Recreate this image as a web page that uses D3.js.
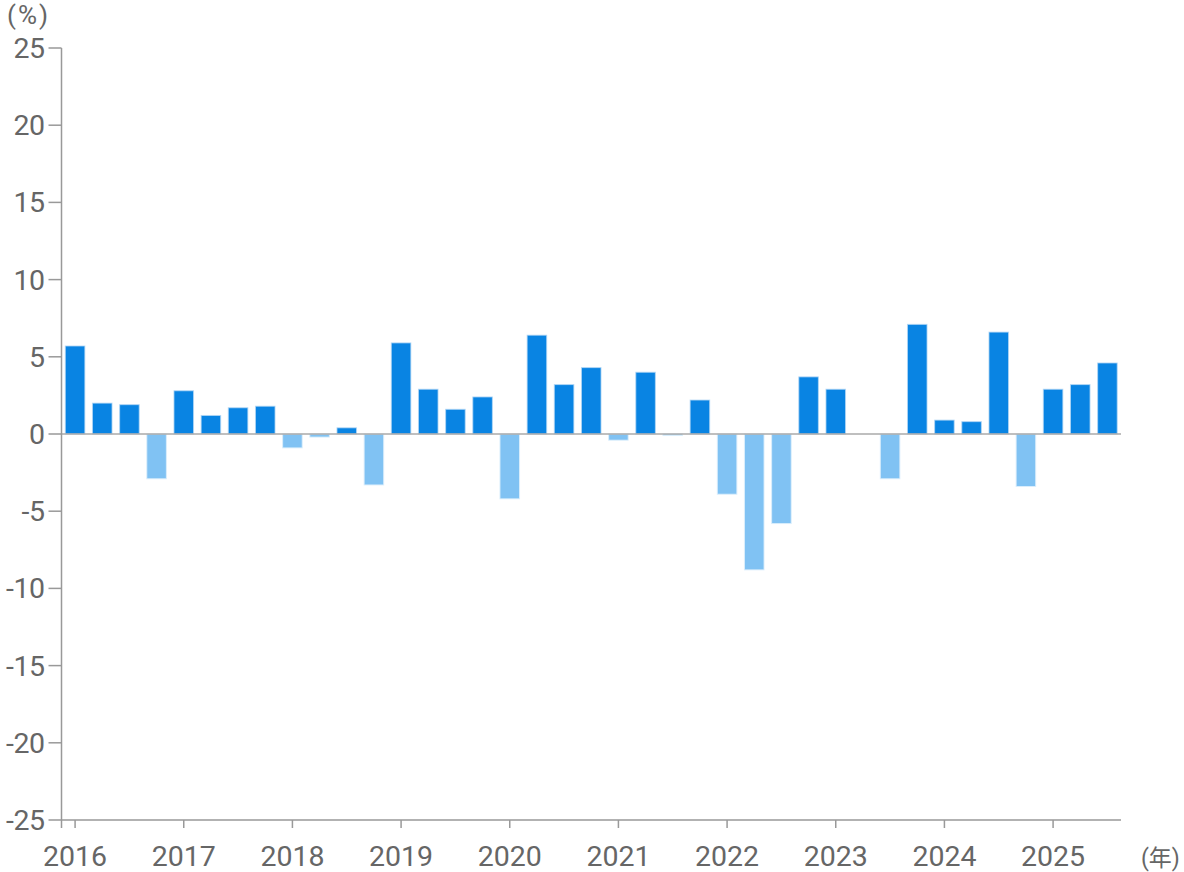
<!DOCTYPE html>
<html><head><meta charset="utf-8">
<script src="https://cdn.jsdelivr.net/npm/d3@7"></script>
<style>body{margin:0;background:#fff}svg text{font-family:Roboto,"Noto Sans CJK JP",sans-serif;fill:#666}</style>
</head><body>
<svg id="c" width="1184" height="872"></svg>
<script>
const years = ["2016","2017","2018","2019","2020","2021","2022","2023","2024","2025"];
const quarters = ["Q1","Q2","Q3","Q4"];
const values = [
  5.7, 2.0, 1.9, -2.9,
  2.8, 1.2, 1.7, 1.8,
  -0.9, -0.2, 0.4, -3.3,
  5.9, 2.9, 1.6, 2.4,
  -4.2, 6.4, 3.2, 4.3,
  -0.4, 4.0, -0.1, 2.2,
  -3.9, -8.8, -5.8, 3.7,
  2.9, 0, -2.9, 7.1,
  0.9, 0.8, 6.6, -3.4,
  2.9, 3.2, 4.6
];
const yTicks = [25,20,15,10,5,0,-5,-10,-15,-20,-25];
const yUnit = "(%)";
const xUnit = "(年)";

(function(){
const keys = values.map((v,i)=>years[Math.floor(i/4)]+"-"+quarters[i%4]);
const data = values.map((v,i)=>({key:keys[i], v}));

const svg = d3.select("#c");
const mLeft = 61.5, mRight = 1121, mTop = 48, mBottom = 820;
const fs = 28.5;
const x = d3.scaleBand().domain(keys).range([mLeft,mRight]).paddingInner(0.28).paddingOuter(0.14);
const y = d3.scaleLinear().domain([-25,25]).range([mBottom,mTop]);

svg.append("g").selectAll("rect").data(data.filter(d=>d.v!==0)).join("rect")
  .attr("x", d=>x(d.key))
  .attr("width", x.bandwidth())
  .attr("y", d=>y(Math.max(0,d.v)))
  .attr("height", d=>Math.abs(y(d.v)-y(0)))
  .attr("fill", d=>d.v>=0?"#0984e3":"#80c2f3")
  .attr("stroke", d=>d.v>=0?"rgba(180,215,245,0.8)":"rgba(220,238,252,0.9)")
  .attr("stroke-width",1);

svg.append("line").attr("x1",mLeft).attr("x2",mRight).attr("y1",y(0)).attr("y2",y(0))
  .attr("stroke","#aaa").attr("stroke-width",1.5);

const ya = svg.append("g");
ya.append("line").attr("x1",mLeft).attr("x2",mLeft).attr("y1",mTop).attr("y2",mBottom+8)
  .attr("stroke","#999").attr("stroke-width",1.5);
yTicks.forEach(t=>{
  ya.append("line").attr("x1",mLeft-13).attr("x2",mLeft).attr("y1",y(t)).attr("y2",y(t))
    .attr("stroke","#999").attr("stroke-width",1.5);
  ya.append("text").attr("x",mLeft-17).attr("y",y(t)).attr("dy","0.35em")
    .attr("text-anchor","end").attr("font-size",fs).attr("letter-spacing",-0.5).text(t);
});
svg.append("text").attr("x",7).attr("y",24).attr("font-size",26).attr("letter-spacing",2).text(yUnit);

const xa = svg.append("g");
xa.append("line").attr("x1",mLeft).attr("x2",mRight).attr("y1",mBottom).attr("y2",mBottom)
  .attr("stroke","#999").attr("stroke-width",1.5);
years.forEach(yr=>{
  const cx = x(yr+"-Q1")+x.bandwidth()/2;
  xa.append("line").attr("x1",cx).attr("x2",cx).attr("y1",mBottom).attr("y2",mBottom+8)
    .attr("stroke","#999").attr("stroke-width",1.5);
  xa.append("text").attr("x",cx).attr("y",866).attr("text-anchor","middle").attr("font-size",fs).text(yr);
});
svg.append("text").attr("x",1141).attr("y",866).attr("text-anchor","start").attr("font-size",23)
  .text(xUnit);
})();
</script>
</body></html>
